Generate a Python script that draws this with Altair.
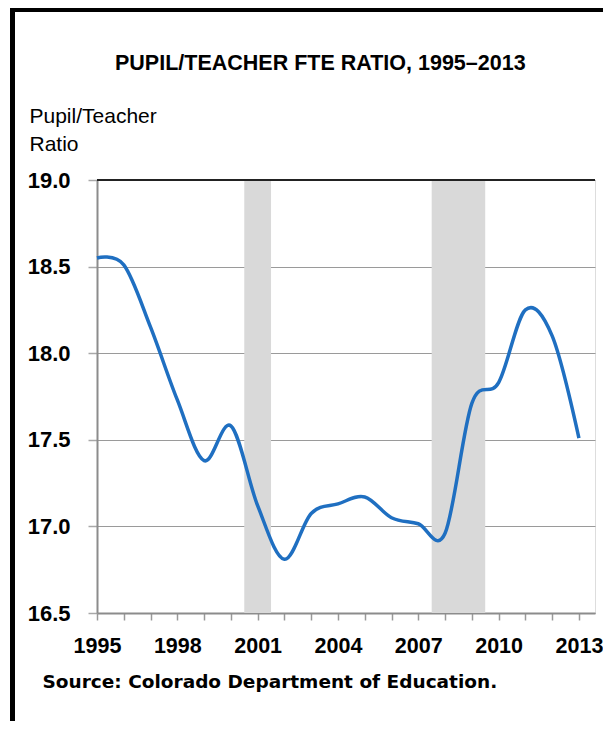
import altair as alt
import pandas as pd

years = list(range(1995, 2014))
ratio = [18.55, 18.51, 18.15, 17.73, 17.38, 17.58, 17.12, 16.81, 17.075, 17.13,
         17.17, 17.05, 17.015, 16.96, 17.71, 17.83, 18.25, 18.10, 17.51]
band_start = [2000.5, 2007.5]
band_end = [2001.5, 2009.5]
y_ticks = [16.5, 17.0, 17.5, 18.0, 18.5, 19.0]

title_text = ["PUPIL/TEACHER FTE RATIO, 1995\u20132013"]
y_title = ["Pupil/Teacher", "Ratio"]
source_text = "Source: Colorado Department of Education."

SANS = "'Liberation Sans', Arial, sans-serif"
SRC_FONT = "Tahoma, 'DejaVu Sans', sans-serif"

df = pd.DataFrame({"year": years, "ratio": ratio})
bands = pd.DataFrame({"start": band_start, "end": band_end})
titles = pd.DataFrame({"t": title_text})
one = pd.DataFrame({"k": [0]})

x_scale = alt.Scale(domain=[1995, 2013.6], nice=False, zero=False)
y_scale = alt.Scale(domain=[16.5, 19.0], nice=False, zero=False)

x_axis = alt.Axis(
    values=years,
    labelExpr="(datum.value - 1995) % 3 == 0 ? datum.value : ''",
    grid=False,
    tickSize=7, tickColor="#999999", tickWidth=1.5,
    domainColor="#8c8c8c", domainWidth=2,
    labelFont=SANS, labelFontSize=21.5, labelFontWeight="bold", labelColor="black",
    labelPadding=15, labelFlush=False, labelOverlap=False,
    title=source_text, titleFont=SRC_FONT, titleFontSize=18.5, titleFontWeight="bold",
    titleColor="black", titleAnchor="start", titleAlign="left",
    titleX=-55, titleY=74, titleBaseline="alphabetic",
)

y_axis = alt.Axis(
    values=y_ticks, format=".1f",
    grid=True, gridColor="#9a9a9a", gridWidth=1.2,
    tickSize=9, tickColor="#a8a8a8", tickWidth=1.5,
    domainColor="#8c8c8c", domainWidth=2,
    labelFont=SANS, labelFontSize=22, labelFontWeight="bold", labelColor="black",
    labelPadding=18, labelBaseline="middle",
    title=y_title, titleFont=SANS, titleFontSize=21, titleFontWeight="normal",
    titleColor="black", titleAngle=0, titleAlign="left", titleBaseline="alphabetic",
    titleX=-68, titleY=-58, titleLineHeight=28,
)

band_layer = alt.Chart(bands).mark_rect(color="#d9d9d9").encode(
    x=alt.X("start:Q", scale=x_scale, axis=x_axis),
    x2="end:Q",
    y=alt.value(0),
    y2=alt.value(433),
)

line_layer = alt.Chart(df).mark_line(
    interpolate="cardinal", color="#1f6fc1", strokeWidth=3.5
).encode(
    x=alt.X("year:Q", scale=x_scale, axis=x_axis),
    y=alt.Y("ratio:Q", scale=y_scale, axis=y_axis),
)

top_rule = alt.Chart(one).mark_rule(color="#222222", strokeWidth=2).encode(
    y=alt.datum(19.0, scale=y_scale),
    x=alt.value(0), x2=alt.value(498),
)

title_layer = alt.Chart(titles).mark_text(
    font=SANS, fontSize=21.5, fontWeight="bold", color="black",
    align="left", baseline="alphabetic",
).encode(
    text="t:N", x=alt.value(18), y=alt.value(-110),
)

frame_left = alt.Chart(one).mark_rule(color="black", strokeWidth=5).encode(
    x=alt.value(-84.5), y=alt.value(-173), y2=alt.value(550),
)
frame_top = alt.Chart(one).mark_rule(color="black", strokeWidth=5).encode(
    y=alt.value(-170.5), x=alt.value(-87), x2=alt.value(530),
)

chart = alt.layer(
    band_layer, line_layer, top_rule, title_layer, frame_left, frame_top
).properties(
    width=498,
    height=433,
    autosize=alt.AutoSizeParams(type="none"),
    padding={"left": 89, "top": 172, "right": 8, "bottom": 108},
).configure_view(stroke="#8c8c8c", strokeWidth=2).configure(background="white")

chart.save("out.html", embed_options={"renderer": "svg", "actions": False})
